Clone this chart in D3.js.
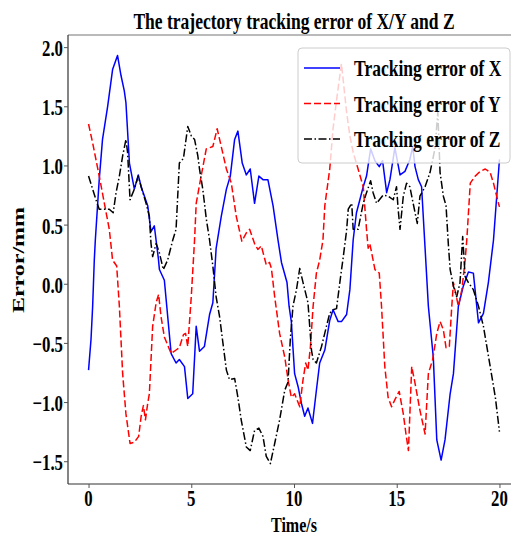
<!DOCTYPE html>
<html><head><meta charset="utf-8">
<script src="https://cdn.jsdelivr.net/npm/d3@7"></script>
<style>body{margin:0;background:#fff}svg{display:block}text{font-family:"Liberation Serif","Times New Roman",serif;font-weight:bold;fill:#000}</style>
</head><body><div id="chart"></div>
<script>
const titleText = "The trajectory tracking error of X/Y and Z";
const xLabel = "Time/s";
const yLabel = "Error/mm";
const seriesNames = ["Tracking error of X", "Tracking error of Y", "Tracking error of Z"];
const xTicks = [0, 5, 10, 15, 20];
const yTicks = [-1.5, -1.0, -0.5, 0.0, 0.5, 1.0, 1.5, 2.0];

const timeX = [0,0.12,0.2,0.28,0.33,0.52,0.68,0.93,1.17,1.41,1.58,1.74,1.82,1.99,2.23,2.42,2.56,2.88,3.04,3.2,3.4,3.45,3.69,4.02,4.26,4.42,4.67,4.83,5.07,5.24,5.4,5.64,5.89,6.05,6.21,6.46,6.71,6.9,7.11,7.27,7.48,7.68,7.87,8.08,8.29,8.49,8.73,8.98,9.22,9.39,9.66,9.76,9.87,10.03,10.2,10.36,10.52,10.68,10.9,11.09,11.25,11.5,11.74,11.9,12.15,12.31,12.56,12.72,12.88,13.04,13.37,13.53,13.73,13.94,14.15,14.31,14.51,14.67,14.91,15.16,15.4,15.64,15.78,15.89,16.05,16.21,16.38,16.54,16.78,16.95,17.16,17.35,17.6,17.76,18.0,18.24,18.49,18.73,18.98,19.22,19.46,19.71,20];
const errX = [-0.73,-0.47,-0.19,0.2,0.37,0.88,1.22,1.5,1.81,1.93,1.76,1.63,1.53,1.02,0.8,0.92,0.82,0.66,0.44,0.49,0.21,0.12,0.03,-0.59,-0.67,-0.64,-0.7,-0.97,-0.93,-0.36,-0.57,-0.53,-0.26,-0.16,0.3,0.57,0.8,0.91,1.22,1.29,1.02,0.92,0.97,0.68,0.91,0.88,0.88,0.66,0.37,0.18,0.01,-0.19,-0.32,-0.76,-0.87,-1.01,-1.12,-1.05,-1.18,-0.9,-0.67,-0.56,-0.31,-0.22,-0.32,-0.32,-0.26,-0.05,0.37,0.6,0.82,0.91,1.14,1.04,0.99,1.04,0.77,0.88,1.15,0.92,0.95,1.05,1.16,0.99,0.88,0.82,0.3,-0.19,-0.62,-1.32,-1.49,-1.32,-0.93,-0.76,-0.19,-0.02,0.1,0.09,-0.33,-0.25,0.01,0.37,1.05];

const timeY = [0,0.2,0.52,0.77,1.01,1.17,1.37,1.5,1.66,1.82,2.02,2.23,2.44,2.56,2.67,2.77,2.88,2.96,3.12,3.29,3.41,3.53,3.69,4.02,4.26,4.42,4.62,4.72,4.83,5.0,5.16,5.24,5.48,5.73,6.05,6.26,6.46,6.71,6.95,7.19,7.46,7.68,7.84,8.08,8.24,8.41,8.65,8.81,8.9,9.06,9.3,9.55,9.71,9.87,10.03,10.28,10.44,10.57,10.68,10.8,10.93,11.09,11.25,11.41,11.5,11.74,11.9,12.1,12.31,12.56,12.72,12.88,13.12,13.37,13.53,13.61,13.69,13.85,13.94,14.15,14.26,14.42,14.58,14.75,14.91,15.12,15.32,15.45,15.57,15.64,15.73,15.89,16.13,16.38,16.54,16.75,16.95,17.11,17.27,17.4,17.56,17.68,17.76,18.0,18.17,18.33,18.41,18.58,18.82,19.06,19.31,19.55,19.71,19.95,20];
const errY = [1.35,1.19,0.91,0.68,0.46,0.2,0.15,-0.19,-0.76,-1.1,-1.35,-1.34,-1.29,-1.12,-1.03,-1.15,-1.01,-0.93,-0.36,-0.16,-0.09,-0.28,-0.45,-0.59,-0.56,-0.54,-0.43,-0.42,-0.53,-0.11,0.37,0.68,0.91,1.14,1.16,1.31,1.16,0.97,0.85,0.57,0.36,0.43,0.46,0.34,0.29,0.32,0.16,0.18,0.13,-0.11,-0.42,-0.62,-0.81,-0.96,-0.93,-1.04,-0.81,-0.67,-0.73,-0.53,-0.19,0.09,0.2,0.37,0.66,0.97,1.31,1.59,1.86,1.45,1.25,1.11,0.97,0.82,0.46,0.3,0.34,0.2,0.12,0.09,-0.19,-0.7,-0.96,-1.04,-0.98,-0.91,-1.1,-1.27,-1.41,-1.1,-0.7,-0.84,-1.07,-1.27,-0.76,-0.64,-0.42,-0.32,-0.39,-0.54,-0.53,-0.19,0.01,-0.19,-0.05,0.2,0.37,0.85,0.91,0.95,0.97,0.94,0.85,0.68,0.65];

const timeZ = [0,0.2,0.36,0.52,0.77,1.01,1.2,1.34,1.5,1.66,1.82,1.9,2.02,2.23,2.42,2.56,2.8,2.96,3.04,3.12,3.29,3.45,3.64,3.85,4.1,4.26,4.42,4.62,4.83,5.0,5.16,5.32,5.4,5.56,5.73,5.89,6.05,6.21,6.38,6.54,6.71,6.86,7.11,7.27,7.43,7.68,7.87,8.08,8.29,8.49,8.65,8.85,9.06,9.3,9.55,9.71,9.82,9.95,10.12,10.28,10.44,10.68,10.85,10.93,11.09,11.34,11.58,11.74,11.9,12.07,12.23,12.4,12.56,12.64,12.81,12.88,13.12,13.37,13.53,13.73,13.85,14.02,14.34,14.59,14.83,14.99,15.07,15.16,15.32,15.48,15.64,15.8,16.0,16.13,16.38,16.62,16.86,17.0,17.11,17.27,17.4,17.51,17.6,17.76,17.92,18.08,18.21,18.33,18.49,18.73,18.98,19.22,19.55,19.8,20];
const errZ = [0.91,0.8,0.71,0.63,0.63,0.63,0.6,0.77,0.91,1.08,1.22,1.11,0.71,0.8,0.91,0.82,0.68,0.57,0.34,0.23,0.34,0.26,0.12,0.2,0.37,0.46,1.02,1.06,1.33,1.25,1.22,1.08,0.97,0.8,0.55,0.37,0.15,-0.11,-0.28,-0.5,-0.73,-0.81,-0.8,-0.96,-1.15,-1.38,-1.41,-1.24,-1.22,-1.29,-1.46,-1.52,-1.35,-1.15,-0.9,-0.83,-0.47,-0.19,-0.05,0.13,0.01,-0.16,-0.56,-0.64,-0.67,-0.53,-0.36,-0.25,-0.22,-0.21,0.01,0.23,0.45,0.63,0.68,0.46,0.46,0.68,0.77,0.87,0.77,0.68,0.75,0.74,0.71,0.82,0.63,0.46,0.74,0.85,0.82,0.68,0.51,0.74,0.82,0.94,1.14,1.45,0.94,0.74,0.66,0.34,0.12,-0.02,-0.11,0.01,0.4,0.06,0.01,-0.05,-0.19,-0.36,-0.7,-0.96,-1.25];

const W = 511, H = 537;
const SX = 0.73; // horizontal squeeze of the glyphs
const plot = {left: 68, right: 520, top: 35, bottom: 484};

const svg = d3.select("#chart").append("svg").attr("width", W).attr("height", H);

const allVals = errX.concat(errY, errZ);
const vmin = d3.min(allVals), vmax = d3.max(allVals), vr = vmax - vmin;
const x = d3.scaleLinear().domain([-1, 21]).range([plot.left, plot.right]);
const y = d3.scaleLinear().domain([vmin - 0.05 * vr, vmax + 0.05 * vr]).range([plot.bottom, plot.top]);

function sqText(g, px, py, txt, size, anchor, rot) {
  return g.append("text")
    .attr("transform", `translate(${px},${py}) scale(${SX},1)` + (rot ? ` rotate(${rot})` : ""))
    .attr("font-size", size).attr("text-anchor", anchor).text(txt);
}

svg.append("clipPath").attr("id", "clip").append("rect")
  .attr("x", plot.left).attr("y", plot.top).attr("width", plot.right - plot.left).attr("height", plot.bottom - plot.top);

const series = [
  {t: timeX, v: errX, color: "#0000ff", dash: null},
  {t: timeY, v: errY, color: "#ff0000", dash: "7,3"},
  {t: timeZ, v: errZ, color: "#000000", dash: "8,2.5,1.5,2.5"}
];

const line = d3.line().x(d => x(d[0])).y(d => y(d[1]));
const lines = svg.append("g").attr("clip-path", "url(#clip)");
series.forEach(s => {
  lines.append("path").datum(s.t.map((t, i) => [t, s.v[i]]))
    .attr("d", line).attr("fill", "none").attr("stroke", s.color)
    .attr("stroke-width", 1.5).attr("stroke-dasharray", s.dash).attr("stroke-linejoin", "round");
});

// spines
svg.append("line").attr("x1", plot.left).attr("x2", plot.right).attr("y1", plot.top).attr("y2", plot.top).attr("stroke", "#777").attr("stroke-width", 1.2);
svg.append("line").attr("x1", plot.left).attr("x2", plot.right).attr("y1", plot.bottom).attr("y2", plot.bottom).attr("stroke", "#333").attr("stroke-width", 1.2);
svg.append("line").attr("x1", plot.left).attr("x2", plot.left).attr("y1", plot.top).attr("y2", plot.bottom).attr("stroke", "#333").attr("stroke-width", 1.2);

// axes
const xAxis = svg.append("g").attr("transform", `translate(0,${plot.bottom})`)
  .call(d3.axisBottom(x).tickValues(xTicks).tickSize(4).tickFormat(() => ""));
xAxis.select(".domain").remove();
xAxis.selectAll("line").attr("stroke", "#555");
xTicks.forEach(v => sqText(svg, x(v), 506, d3.format("d")(v), 23, "middle"));

const yAxis = svg.append("g").attr("transform", `translate(${plot.left},0)`)
  .call(d3.axisLeft(y).tickValues(yTicks).tickSize(4).tickFormat(() => ""));
yAxis.select(".domain").remove();
yAxis.selectAll("line").attr("stroke", "#555");
yTicks.forEach(v => sqText(svg, 63, y(v) + 9, d3.format(".1f")(v), 23, "end"));

// labels
sqText(svg, (plot.left + plot.right) / 2, 29, titleText, 24, "middle");
sqText(svg, (plot.left + plot.right) / 2, 532, xLabel, 22, "middle");
sqText(svg, 24, 260, yLabel, 24, "middle", -90);

// legend
const lg = svg.append("g");
lg.append("rect").attr("x", 298).attr("y", 48).attr("width", 212).attr("height", 115)
  .attr("rx", 4).attr("fill", "#fff").attr("fill-opacity", 0.8).attr("stroke", "#ccc");
series.forEach((s, i) => {
  const cy = 68 + i * 35.5;
  lg.append("line").attr("x1", 304).attr("x2", 340).attr("y1", cy).attr("y2", cy)
    .attr("stroke", s.color).attr("stroke-width", 1.5).attr("stroke-dasharray", s.dash);
  sqText(lg, 354, cy + 8, seriesNames[i], 24, "start");
});
</script></body></html>
